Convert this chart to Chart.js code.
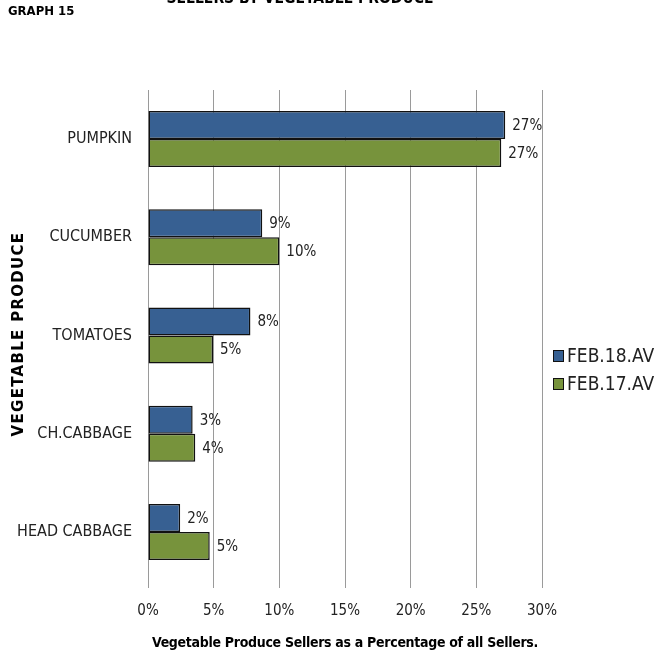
<!DOCTYPE html>
<html>
<head>
<meta charset="utf-8">
<script src="https://cdn.jsdelivr.net/npm/chart.js@4/dist/chart.umd.min.js"></script>
<style>
  body { margin: 0; background: #fff; }
  #wrap { width: 659px; height: 653px; position: relative; }
</style>
</head>
<body>
<div id="wrap"><canvas id="chart"></canvas></div>
<script>
// categories and series
const categories = ['PUMPKIN', 'CUCUMBER', 'TOMATOES', 'CH.CABBAGE', 'HEAD CABBAGE'];
const seriesNames = ['FEB.18.AV', 'FEB.17.AV'];
const feb18 = [27.2, 8.7, 7.8, 3.4, 2.45];
const feb17 = [26.9, 10.0, 4.95, 3.6, 4.7];
const xTicks = [0, 5, 10, 15, 20, 25, 30];
const xTitle = 'Vegetable Produce Sellers as a Percentage of all Sellers.';
const yTitle = 'VEGETABLE PRODUCE';

const narrow = "'DejaVu Sans Condensed', 'Liberation Sans Narrow', sans-serif";

// percentage text next to each bar
const barLabels = {
  id: 'barLabels',
  afterDatasetsDraw(chart) {
    const ctx = chart.ctx;
    ctx.save();
    ctx.font = '15px ' + narrow;
    ctx.fillStyle = '#222';
    ctx.textBaseline = 'middle';
    chart.data.datasets.forEach((ds, i) => {
      chart.getDatasetMeta(i).data.forEach((bar, j) => {
        ctx.fillText(Math.round(ds.data[j]) + '%', bar.x + 7, bar.y + 1);
      });
    });
    ctx.restore();
  }
};

// header texts, axis titles and legend at the right
const extras = {
  id: 'extras',
  afterDraw(chart) {
    const ctx = chart.ctx;
    const area = chart.chartArea;
    ctx.save();
    ctx.fillStyle = '#000';
    ctx.font = 'bold 13px ' + narrow;
    ctx.textBaseline = 'middle';
    ctx.fillText('GRAPH 15', 8, 12);
    ctx.font = 'bold 15.5px ' + narrow;
    ctx.textAlign = 'center';
    ctx.fillText('SELLERS BY VEGETABLE PRODUCE', 300, -1);

    ctx.font = 'bold 14px ' + narrow;
    ctx.letterSpacing = '-0.3px';
    ctx.fillText(xTitle, (area.left + area.right) / 2, 643);
    ctx.letterSpacing = '0px';

    // rotated y-axis title with wide letter spacing
    ctx.save();
    ctx.translate(19, 334);
    ctx.rotate(-Math.PI / 2);
    ctx.font = "bold 15px 'DejaVu Sans', sans-serif";
    ctx.letterSpacing = '1.3px';
    ctx.fillText(yTitle, 0, 0);
    ctx.restore();

    ctx.textAlign = 'left';
    ctx.font = '19px ' + narrow;
    const ys = [356, 384];
    chart.data.datasets.forEach((ds, i) => {
      ctx.fillStyle = ds.backgroundColor;
      ctx.fillRect(553, ys[i] - 6, 11, 12);
      ctx.strokeStyle = '#111';
      ctx.lineWidth = 1;
      ctx.strokeRect(553.5, ys[i] - 5.5, 10, 11);
      ctx.fillStyle = '#222';
      ctx.fillText(ds.label, 567, ys[i] + 1);
    });
    ctx.restore();
  }
};

new Chart(document.getElementById('chart'), {
  type: 'bar',
  data: {
    labels: categories,
    datasets: [
      {
        label: seriesNames[0],
        data: feb18,
        backgroundColor: '#376092',
        borderColor: '#111',
        borderWidth: 1.5,
        borderSkipped: false,
        categoryPercentage: 0.57,
        barPercentage: 1.0
      },
      {
        label: seriesNames[1],
        data: feb17,
        backgroundColor: '#77933c',
        borderColor: '#111',
        borderWidth: 1.5,
        borderSkipped: false,
        categoryPercentage: 0.57,
        barPercentage: 1.0
      }
    ]
  },
  options: {
    indexAxis: 'y',
    responsive: true,
    maintainAspectRatio: false,
    animation: false,
    layout: { padding: { top: 90, right: 117, left: 0, bottom: 0 } },
    plugins: {
      legend: { display: false },
      tooltip: { enabled: false }
    },
    scales: {
      x: {
        min: 0,
        max: 30,
        afterBuildTicks(scale) {
          scale.ticks = xTicks.map(v => ({ value: v }));
        },
        afterFit(scale) { scale.height = 72; },
        grid: {
          color: '#9a9a9a',
          lineWidth: 1,
          tickLength: 7,
          drawTicks: true
        },
        border: { display: false },
        ticks: {
          color: '#222',
          font: { size: 15, family: narrow },
          padding: 14,
          callback: v => v + '%'
        }
      },
      y: {
        afterFit(scale) { scale.width = 148; },
        grid: { display: false },
        border: { display: true, color: '#9a9a9a', width: 1 },
        ticks: {
          color: '#222',
          font: { size: 16, family: narrow },
          padding: 8
        }
      }
    }
  },
  plugins: [barLabels, extras]
});
</script>
</body>
</html>
